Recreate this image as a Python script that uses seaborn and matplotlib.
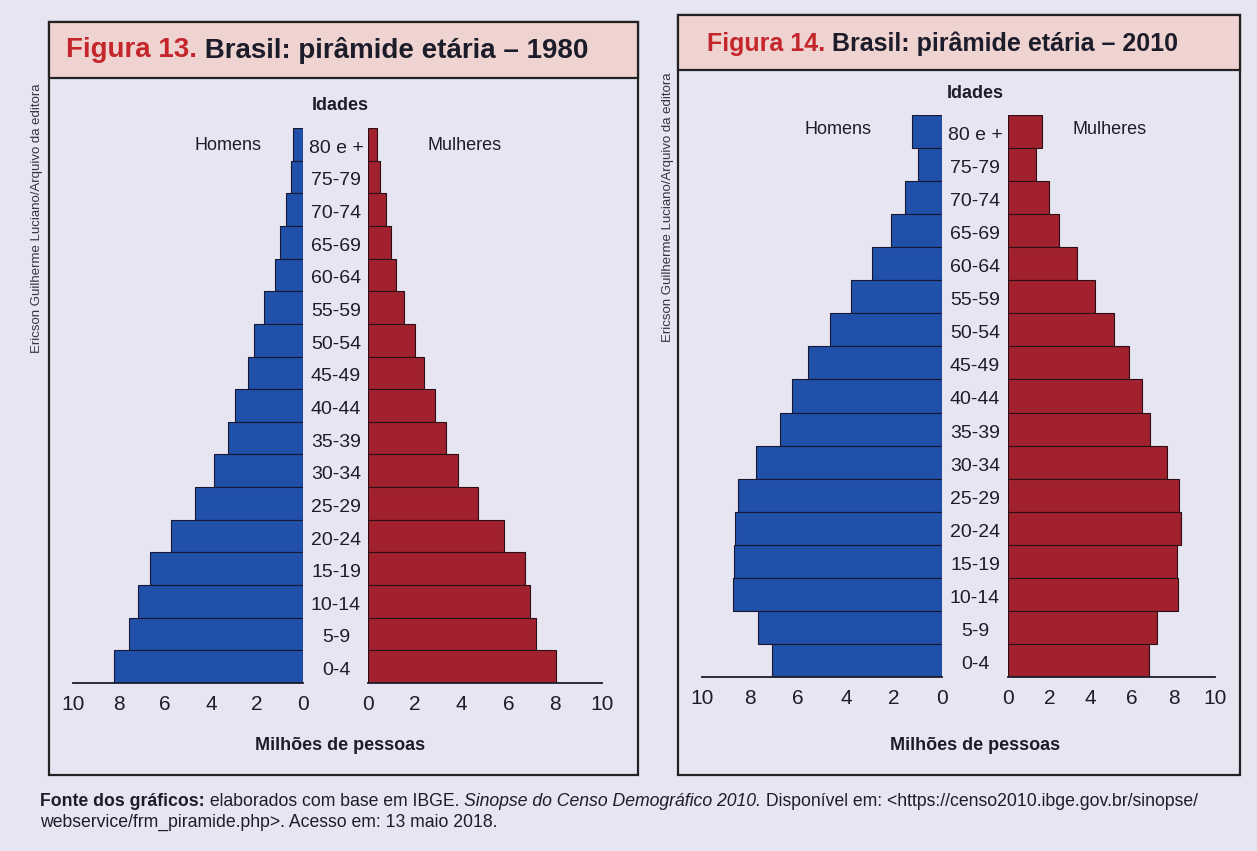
import pandas as pd
import seaborn as sns
import matplotlib.pyplot as plt
from matplotlib.patches import Rectangle
from matplotlib.transforms import blended_transform_factory

# faixas etárias (de cima para baixo)
idades = ["80 e +", "75-79", "70-74", "65-69", "60-64", "55-59", "50-54", "45-49",
          "40-44", "35-39", "30-34", "25-29", "20-24", "15-19", "10-14", "5-9", "0-4"]

# milhões de pessoas
homens_1980 = [0.44, 0.53, 0.75, 1.0, 1.21, 1.68, 2.12, 2.37,
               2.95, 3.24, 3.85, 4.70, 5.72, 6.65, 7.17, 7.55, 8.2]
mulheres_1980 = [0.38, 0.5, 0.76, 0.97, 1.21, 1.53, 2.0, 2.4,
                 2.85, 3.35, 3.85, 4.68, 5.82, 6.71, 6.94, 7.18, 8.03]
homens_2010 = [1.23, 1.01, 1.56, 2.11, 2.9, 3.79, 4.65, 5.6,
               6.24, 6.75, 7.73, 8.51, 8.62, 8.66, 8.72, 7.68, 7.09]
mulheres_2010 = [1.65, 1.37, 2.0, 2.47, 3.34, 4.2, 5.1, 5.85,
                 6.45, 6.84, 7.7, 8.25, 8.35, 8.15, 8.2, 7.2, 6.8]

ticks = [0, 2, 4, 6, 8, 10]

AZUL = "#2150aa"
VERMELHO = "#a2212f"
PAPEL = "#e8e5f3"
FAIXA = "#efd3d0"
TEXTO = "#1c1c2a"

sns.set_style("white")
plt.rcParams['font.family'] = ['Liberation Sans', 'DejaVu Sans']

W, H = 1257, 851
fig = plt.figure(figsize=(W / 100, H / 100), dpi=100)
fig.patch.set_facecolor(PAPEL)


def caixa(px0, py0, px1, py1):
    return [px0 / W, 1 - py1 / H, (px1 - px0) / W, (py1 - py0) / H]


def piramide(homens, mulheres, box_h, box_m, centro_x):
    df = pd.DataFrame({"idade": idades, "homens": homens, "mulheres": mulheres})
    ax_h = fig.add_axes(caixa(*box_h))
    ax_m = fig.add_axes(caixa(*box_m))
    sns.barplot(data=df, y="idade", x="homens", order=idades, color=AZUL,
                width=1.0, edgecolor="#15182e", linewidth=0.8, saturation=1, ax=ax_h)
    sns.barplot(data=df, y="idade", x="mulheres", order=idades, color=VERMELHO,
                width=1.0, edgecolor="#2a1015", linewidth=0.8, saturation=1, ax=ax_m)
    ax_h.set_xlim(10, 0)
    ax_m.set_xlim(0, 10)
    for ax in (ax_h, ax_m):
        ax.set_ylim(len(idades) - 0.5, -0.5)
        ax.set_facecolor("none")
        sns.despine(ax=ax, left=True)
        ax.spines["bottom"].set_linewidth(1.3)
        ax.spines["bottom"].set_color(TEXTO)
        ax.set_xticks(ticks)
        ax.set_xticklabels([str(t) for t in ticks], fontsize=15, color=TEXTO)
        ax.tick_params(axis="x", direction="in", length=6, width=1.3, colors=TEXTO, pad=9)
        ax.set_yticks([])
        ax.set_xlabel("")
        ax.set_ylabel("")
    tr = blended_transform_factory(fig.transFigure, ax_h.transData)
    for i, lab in enumerate(idades):
        ax_h.text(centro_x / W, i + 0.12, lab, transform=tr, ha="center", va="center",
                  fontsize=14, color=TEXTO)
    return ax_h, ax_m


# molduras e faixas de título
for (x0, y0, x1, y1, yb) in [(49, 22, 638, 775, 78), (678, 15, 1240, 775, 70)]:
    fig.patches.append(Rectangle((x0 / W, 1 - y1 / H), (x1 - x0) / W, (y1 - y0) / H,
                                 transform=fig.transFigure, facecolor="none",
                                 edgecolor="#222222", linewidth=1.6))
    fig.patches.append(Rectangle((x0 / W, 1 - yb / H), (x1 - x0) / W, (yb - y0) / H,
                                 transform=fig.transFigure, facecolor=FAIXA,
                                 edgecolor="#222222", linewidth=1.6))

piramide(homens_1980, mulheres_1980, (73, 128, 303, 683), (368, 128, 602, 683), 336)
piramide(homens_2010, mulheres_2010, (702, 115, 942, 677), (1008, 115, 1215, 677), 975)

# títulos
for x, y, tam, num, resto in [(66, 50, 20, "Figura 13.", " Brasil: pirâmide etária – 1980"),
                              (707, 44, 18, "Figura 14.", " Brasil: pirâmide etária – 2010")]:
    t = fig.text(x / W, 1 - y / H, num, fontsize=tam, fontweight="bold",
                 color="#c4262c", va="center", ha="left")
    fig.canvas.draw()
    bb = t.get_window_extent()
    fig.text(bb.x1 / W, 1 - y / H, resto, fontsize=tam, fontweight="bold",
             color=TEXTO, va="center", ha="left")

# rótulos dos eixos
for cx, yi, ym, yh, xh, xm in [(340, 105, 745, 145, 228, 465),
                               (975, 93, 745, 130, 838, 1110)]:
    fig.text(cx / W, 1 - yi / H, "Idades", fontsize=13, fontweight="bold",
             color=TEXTO, ha="center", va="center")
    fig.text(cx / W, 1 - ym / H, "Milhões de pessoas", fontsize=13, fontweight="bold",
             color=TEXTO, ha="center", va="center")
    fig.text(xh / W, 1 - yh / H, "Homens", fontsize=13, color=TEXTO, ha="center", va="center")
    fig.text(xm / W, 1 - yh / H, "Mulheres", fontsize=13, color=TEXTO, ha="center", va="center")

# crédito vertical
for x, y in [(37, 218), (668, 207)]:
    fig.text(x / W, 1 - y / H, "Ericson Guilherme Luciano/Arquivo da editora",
             rotation=90, fontsize=9.5, color="#333344", ha="center", va="center")

# fonte
fs = 12.7
t1 = fig.text(40 / W, 1 - 801 / H, "Fonte dos gráficos:", fontsize=fs,
              fontweight="bold", color=TEXTO, va="center")
fig.canvas.draw()
x = t1.get_window_extent().x1
t2 = fig.text(x / W, 1 - 801 / H, " elaborados com base em IBGE. ", fontsize=fs,
              color=TEXTO, va="center")
fig.canvas.draw()
x = t2.get_window_extent().x1
t3 = fig.text(x / W, 1 - 801 / H, "Sinopse do Censo Demográfico 2010.", fontsize=fs,
              style="italic", color=TEXTO, va="center")
fig.canvas.draw()
x = t3.get_window_extent().x1
fig.text(x / W, 1 - 801 / H, " Disponível em: <https://censo2010.ibge.gov.br/sinopse/",
         fontsize=fs, color=TEXTO, va="center")
fig.text(40 / W, 1 - 822 / H, "webservice/frm_piramide.php>. Acesso em: 13 maio 2018.",
         fontsize=fs, color=TEXTO, va="center")

fig.savefig("out.png", dpi=100, facecolor=fig.get_facecolor())
